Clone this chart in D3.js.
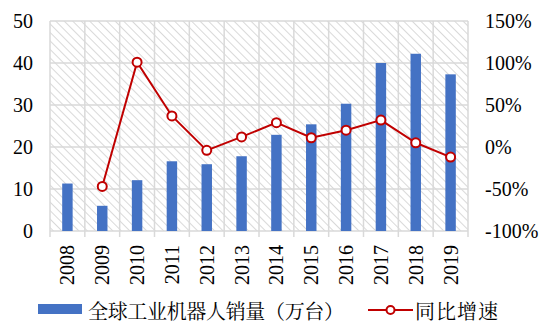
<!DOCTYPE html>
<html>
<head>
<meta charset="utf-8">
<script src="https://cdn.jsdelivr.net/npm/d3@7"></script>
<style>
  body { margin: 0; background: #fff; }
  svg { display: block; }
</style>
</head>
<body>
<div id="chart"></div>
<script>
// Chart data
const years = ['2008', '2009', '2010', '2011', '2012', '2013', '2014', '2015', '2016', '2017', '2018', '2019'];
const sales = [11.3, 6.0, 12.1, 16.6, 15.9, 17.8, 22.9, 25.4, 30.3, 40.0, 42.2, 37.3];
const growth = [null, -47, 101, 37, -4, 12, 29, 11, 20, 32, 5, -12];
const leftTicks = [0, 10, 20, 30, 40, 50];
const rightTicks = [-100, -50, 0, 50, 100, 150];

const width = 549, height = 325;
const margin = { top: 21, right: 81, bottom: 94, left: 50 };
const serif = 'Liberation Serif, serif';
const cjk = 'Noto Serif CJK SC, Noto Sans CJK SC, serif';

const svg = d3.select('#chart').append('svg')
    .attr('width', width)
    .attr('height', height);

// Hatched background pattern
const defs = svg.append('defs');
const pat = defs.append('pattern')
    .attr('id', 'hatch')
    .attr('patternUnits', 'userSpaceOnUse')
    .attr('width', 6)
    .attr('height', 6)
    .attr('patternTransform', 'rotate(-45)');
pat.append('rect').attr('width', 6).attr('height', 6).attr('fill', '#fff');
pat.append('line')
    .attr('x1', 0).attr('y1', 0).attr('x2', 0).attr('y2', 6)
    .attr('stroke', '#d9d9d9')
    .attr('stroke-width', 2);

const x = d3.scaleBand()
    .domain(years)
    .range([margin.left, width - margin.right]);

const yLeft = d3.scaleLinear()
    .domain([0, 50])
    .range([height - margin.bottom, margin.top]);

const yRight = d3.scaleLinear()
    .domain([-100, 150])
    .range([height - margin.bottom, margin.top]);

// Plot background
svg.append('rect')
    .attr('x', margin.left)
    .attr('y', margin.top)
    .attr('width', width - margin.left - margin.right)
    .attr('height', height - margin.top - margin.bottom)
    .attr('fill', 'url(#hatch)');

// Grid lines
svg.append('g')
    .selectAll('line')
    .data(leftTicks)
    .join('line')
    .attr('x1', margin.left)
    .attr('x2', width - margin.right)
    .attr('y1', d => yLeft(d))
    .attr('y2', d => yLeft(d))
    .attr('stroke', '#d9d9d9')
    .attr('stroke-width', 1.5);

const bounds = years.map(d => x(d)).concat([x(years[years.length - 1]) + x.bandwidth()]);
svg.append('g')
    .selectAll('line')
    .data(bounds)
    .join('line')
    .attr('x1', d => d)
    .attr('x2', d => d)
    .attr('y1', margin.top)
    .attr('y2', height - margin.bottom + 6)
    .attr('stroke', '#d9d9d9')
    .attr('stroke-width', 1.5);

// Bars
const barW = x.bandwidth() * 0.3;
svg.append('g')
    .selectAll('rect')
    .data(years)
    .join('rect')
    .attr('x', (d, i) => x(d) + (x.bandwidth() - barW) / 2)
    .attr('y', (d, i) => yLeft(sales[i]))
    .attr('width', barW)
    .attr('height', (d, i) => yLeft(0) - yLeft(sales[i]))
    .attr('fill', '#4472c4');

// Growth line
const pts = years.map((d, i) => ({ year: d, v: growth[i] })).filter(d => d.v !== null);
const line = d3.line()
    .x(d => x(d.year) + x.bandwidth() / 2)
    .y(d => yRight(d.v));

svg.append('path')
    .datum(pts)
    .attr('d', line)
    .attr('fill', 'none')
    .attr('stroke', '#c00000')
    .attr('stroke-width', 2);

svg.append('g')
    .selectAll('circle')
    .data(pts)
    .join('circle')
    .attr('cx', d => x(d.year) + x.bandwidth() / 2)
    .attr('cy', d => yRight(d.v))
    .attr('r', 4.5)
    .attr('fill', '#fff')
    .attr('stroke', '#c00000')
    .attr('stroke-width', 2);

// Left axis labels
svg.append('g')
    .selectAll('text')
    .data(leftTicks)
    .join('text')
    .attr('x', 33)
    .attr('y', d => yLeft(d))
    .attr('dy', '0.35em')
    .attr('text-anchor', 'end')
    .attr('font-family', serif)
    .attr('font-size', 20)
    .text(d => d);

// Right axis labels
svg.append('g')
    .selectAll('text')
    .data(rightTicks)
    .join('text')
    .attr('x', 485)
    .attr('y', d => yRight(d))
    .attr('dy', '0.35em')
    .attr('text-anchor', 'start')
    .attr('font-family', serif)
    .attr('font-size', 20)
    .text(d => d + '%');

// Category labels, rotated
svg.append('g')
    .selectAll('text')
    .data(years)
    .join('text')
    .attr('transform', d => `translate(${x(d) + x.bandwidth() / 2},${height - margin.bottom + 14}) rotate(-90)`)
    .attr('dy', '0.35em')
    .attr('text-anchor', 'end')
    .attr('font-family', serif)
    .attr('font-size', 20)
    .text(d => d);

// Legend
const legY = 310;
svg.append('rect')
    .attr('x', 38).attr('y', legY - 6)
    .attr('width', 44).attr('height', 10)
    .attr('fill', '#4472c4');
svg.append('text')
    .attr('x', 88).attr('y', legY + 2)
    .attr('dy', '0.35em')
    .attr('font-family', cjk)
    .attr('font-size', 20)
    .attr('textLength', 256)
    .attr('lengthAdjust', 'spacing')
    .text('全球工业机器人销量（万台）');

svg.append('line')
    .attr('x1', 368).attr('x2', 413)
    .attr('y1', legY).attr('y2', legY)
    .attr('stroke', '#c00000')
    .attr('stroke-width', 2);
svg.append('circle')
    .attr('cx', 390.5).attr('cy', legY)
    .attr('r', 4)
    .attr('fill', '#fff')
    .attr('stroke', '#c00000')
    .attr('stroke-width', 2);
svg.append('text')
    .attr('x', 415).attr('y', legY + 2)
    .attr('dy', '0.35em')
    .attr('font-family', cjk)
    .attr('font-size', 20)
    .attr('textLength', 83)
    .attr('lengthAdjust', 'spacing')
    .text('同比增速');
</script>
</body>
</html>
